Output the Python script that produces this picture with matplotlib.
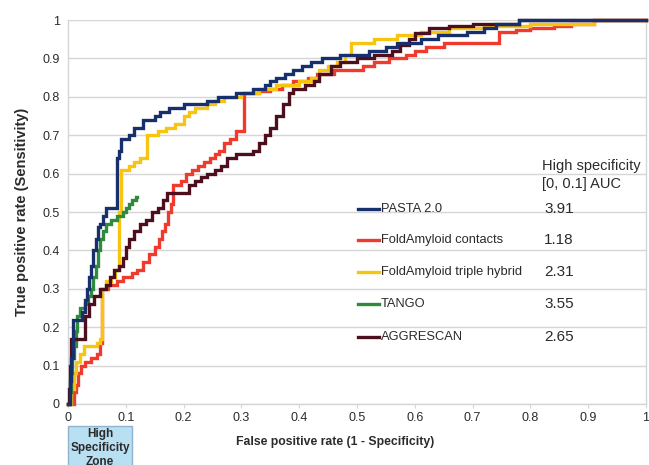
import matplotlib
matplotlib.use('Agg')
import matplotlib.pyplot as plt
from matplotlib.patches import Rectangle
from matplotlib.lines import Line2D

plt.rcParams['font.family'] = ['Liberation Sans', 'DejaVu Sans']

# colours
NAVY = '#17306b'
RED = '#ee3b2d'
YELLOW = '#f7c50f'
GREEN = '#2f8a3b'
MAROON = '#4d0f1e'
GRID = '#d6d6d6'
TXT = '#2b2b2b'

# ROC curves (false positive rate, true positive rate)
pasta_fpr = [0, 0.003, 0.005, 0.008, 0.025, 0.03, 0.033, 0.036, 0.04, 0.044, 0.048, 0.052,
             0.056, 0.06, 0.065, 0.085, 0.088, 0.092, 0.105, 0.115, 0.13, 0.15, 0.16, 0.175,
             0.2, 0.24, 0.26, 0.29, 0.32, 0.34, 0.35, 0.36, 0.375, 0.39, 0.405, 0.42, 0.44,
             0.47, 0.52, 0.55, 0.57, 0.61, 0.64, 0.69, 0.72, 0.74, 0.78, 1.0]
pasta_tpr = [0, 0.06, 0.12, 0.22, 0.24, 0.27, 0.30, 0.33, 0.36, 0.40, 0.43, 0.46,
             0.47, 0.49, 0.51, 0.64, 0.66, 0.69, 0.70, 0.72, 0.74, 0.75, 0.76, 0.77,
             0.78, 0.79, 0.80, 0.81, 0.82, 0.83, 0.84, 0.85, 0.86, 0.87, 0.88, 0.89, 0.90,
             0.91, 0.92, 0.93, 0.94, 0.95, 0.96, 0.97, 0.98, 0.99, 1.0, 1.0]

contacts_fpr = [0, 0.01, 0.014, 0.018, 0.023, 0.03, 0.04, 0.05, 0.055, 0.058, 0.07, 0.085,
                0.095, 0.11, 0.12, 0.13, 0.14, 0.15, 0.158, 0.163, 0.168, 0.173, 0.178, 0.182,
                0.195, 0.205, 0.215, 0.225, 0.235, 0.245, 0.255, 0.262, 0.27, 0.28, 0.29, 0.305,
                0.33, 0.35, 0.37, 0.39, 0.415, 0.43, 0.46, 0.51, 0.53, 0.555, 0.585, 0.6, 0.62,
                0.65, 0.745, 0.775, 0.8, 0.84, 0.87, 0.91, 1.0]
contacts_tpr = [0, 0.03, 0.05, 0.08, 0.10, 0.11, 0.12, 0.13, 0.16, 0.30, 0.31, 0.32,
                0.33, 0.34, 0.35, 0.37, 0.39, 0.41, 0.43, 0.45, 0.47, 0.50, 0.52, 0.57,
                0.58, 0.60, 0.61, 0.62, 0.63, 0.64, 0.65, 0.66, 0.68, 0.69, 0.71, 0.81,
                0.815, 0.82, 0.83, 0.84, 0.85, 0.86, 0.87, 0.88, 0.89, 0.90, 0.91, 0.92, 0.93,
                0.94, 0.97, 0.975, 0.98, 0.985, 0.99, 1.0, 1.0]

triple_fpr = [0, 0.006, 0.01, 0.014, 0.02, 0.028, 0.05, 0.055, 0.058, 0.066, 0.075, 0.082,
              0.088, 0.092, 0.105, 0.115, 0.125, 0.137, 0.155, 0.17, 0.185, 0.2, 0.21, 0.22,
              0.24, 0.255, 0.27, 0.3, 0.33, 0.36, 0.4, 0.42, 0.435, 0.45, 0.465, 0.48, 0.49,
              0.53, 0.57, 0.61, 0.66, 0.72, 0.8, 0.91, 1.0]
triple_tpr = [0, 0.04, 0.08, 0.11, 0.13, 0.15, 0.16, 0.17, 0.30, 0.32, 0.33, 0.35,
              0.50, 0.61, 0.62, 0.63, 0.64, 0.70, 0.71, 0.72, 0.73, 0.75, 0.76, 0.77,
              0.78, 0.79, 0.80, 0.81, 0.82, 0.83, 0.84, 0.85, 0.87, 0.88, 0.89, 0.91, 0.94,
              0.95, 0.96, 0.97, 0.98, 0.985, 0.99, 1.0, 1.0]

tango_fpr = [0, 0.003, 0.005, 0.007, 0.01, 0.013, 0.016, 0.02, 0.03, 0.035, 0.04, 0.044,
             0.048, 0.052, 0.056, 0.06, 0.065, 0.075, 0.085, 0.095, 0.1, 0.105, 0.11, 0.118, 0.12]
tango_tpr = [0, 0.03, 0.08, 0.12, 0.15, 0.19, 0.23, 0.25, 0.26, 0.28, 0.30, 0.33,
             0.36, 0.40, 0.43, 0.45, 0.47, 0.48, 0.49, 0.50, 0.51, 0.52, 0.53, 0.54, 0.54]

aggrescan_fpr = [0, 0.002, 0.004, 0.006, 0.03, 0.036, 0.045, 0.055, 0.065, 0.072, 0.08, 0.088,
                 0.096, 0.1, 0.105, 0.115, 0.125, 0.135, 0.145, 0.155, 0.165, 0.172, 0.21, 0.22,
                 0.23, 0.24, 0.255, 0.265, 0.275, 0.29, 0.32, 0.33, 0.34, 0.35, 0.36, 0.372,
                 0.382, 0.39, 0.41, 0.425, 0.435, 0.455, 0.47, 0.5, 0.53, 0.56, 0.575, 0.59,
                 0.6, 0.625, 0.66, 0.7, 0.78, 1.0]
aggrescan_tpr = [0, 0.04, 0.10, 0.17, 0.23, 0.26, 0.28, 0.30, 0.31, 0.33, 0.35, 0.36,
                 0.38, 0.41, 0.43, 0.45, 0.47, 0.48, 0.50, 0.51, 0.53, 0.55, 0.57, 0.58,
                 0.59, 0.60, 0.61, 0.62, 0.64, 0.65, 0.66, 0.68, 0.70, 0.72, 0.75, 0.78,
                 0.81, 0.82, 0.83, 0.84, 0.86, 0.88, 0.89, 0.90, 0.91, 0.92, 0.935, 0.95,
                 0.965, 0.98, 0.985, 0.99, 1.0, 1.0]

method_names = ['PASTA 2.0', 'FoldAmyloid contacts', 'FoldAmyloid triple hybrid', 'TANGO', 'AGGRESCAN']
method_colors = [NAVY, RED, YELLOW, GREEN, MAROON]
high_spec_auc = ['3.91', '1.18', '2.31', '3.55', '2.65']

tick_vals = [0, 0.1, 0.2, 0.3, 0.4, 0.5, 0.6, 0.7, 0.8, 0.9, 1]
tick_labels = ['0', '0.1', '0.2', '0.3', '0.4', '0.5', '0.6', '0.7', '0.8', '0.9', '1']

W, H = 649, 465
fig = plt.figure(figsize=(W / 100, H / 100), dpi=100)
fig.patch.set_facecolor('white')
ax = fig.add_axes([68 / W, 1 - 404 / H, (646 - 68) / W, (404 - 20) / H])

curves = {
    'FoldAmyloid contacts': (contacts_fpr, contacts_tpr),
    'FoldAmyloid triple hybrid': (triple_fpr, triple_tpr),
    'TANGO': (tango_fpr, tango_tpr),
    'AGGRESCAN': (aggrescan_fpr, aggrescan_tpr),
    'PASTA 2.0': (pasta_fpr, pasta_tpr),
}
for z, (name, (fx, ty)) in enumerate(curves.items()):
    col = method_colors[method_names.index(name)]
    ax.step(fx, ty, where='post', color=col, lw=2.4, zorder=3 + z, clip_on=False,
            solid_joinstyle='miter')

ax.set_xlim(0, 1)
ax.set_ylim(0, 1)
ax.set_xticks(tick_vals)
ax.set_xticklabels(tick_labels)
ax.set_yticks(tick_vals)
ax.set_yticklabels(tick_labels)
ax.tick_params(axis='x', length=3, color=GRID, labelsize=9, labelcolor=TXT, pad=3)
ax.tick_params(axis='y', length=0, labelsize=9, labelcolor=TXT, pad=6)

ax.grid(True, axis='y', color=GRID, lw=1, zorder=1)
ax.set_axisbelow(True)
ax.spines['top'].set_visible(False)
for s in ['left', 'bottom', 'right']:
    ax.spines[s].set_color(GRID)
    ax.spines[s].set_linewidth(1)

fig.text(22 / W, 1 - 212 / H, 'True positive rate (Sensitivity)', rotation=90,
         ha='center', va='center', fontsize=10.5, fontweight='bold', color=TXT)
fig.text(335 / W, 1 - 442 / H, 'False positive rate (1 - Specificity)',
         ha='center', va='center', fontsize=8.8, fontweight='bold', color=TXT)

# high specificity zone box under the axis (cut by the bottom edge, as in the source)
fig.patches.append(Rectangle((68 / W, -0.05), (132 - 68) / W, 0.05 + (465 - 426) / H,
                             transform=fig.transFigure, facecolor='#b9dff2',
                             edgecolor='#8fb3cc', lw=1))
for txt, py in zip(['High', 'Specificity', 'Zone'], [434, 448, 462]):
    fig.text(100 / W, 1 - py / H, txt, ha='center', va='center', fontsize=8.5,
             fontweight='bold', color=TXT)

# legend table
fig.text(542 / W, 1 - 166 / H, 'High specificity', ha='left', va='center',
         fontsize=10.5, color=TXT)
fig.text(542 / W, 1 - 184 / H, '[0, 0.1] AUC', ha='left', va='center',
         fontsize=10.5, color=TXT)
row_y = [209, 240, 272, 304, 337]
for name, col, auc, py in zip(method_names, method_colors, high_spec_auc, row_y):
    fy = 1 - py / H
    fig.lines.append(Line2D([358 / W, 379 / W], [fy, fy], transform=fig.transFigure,
                            color=col, lw=2.4))
    fig.text(381 / W, fy, name, ha='left', va='center', fontsize=9.3, color=TXT)
    fig.text(544 / W, fy, auc, ha='left', va='center', fontsize=11, color=TXT)

fig.savefig('out.png', dpi=100, facecolor='white')
